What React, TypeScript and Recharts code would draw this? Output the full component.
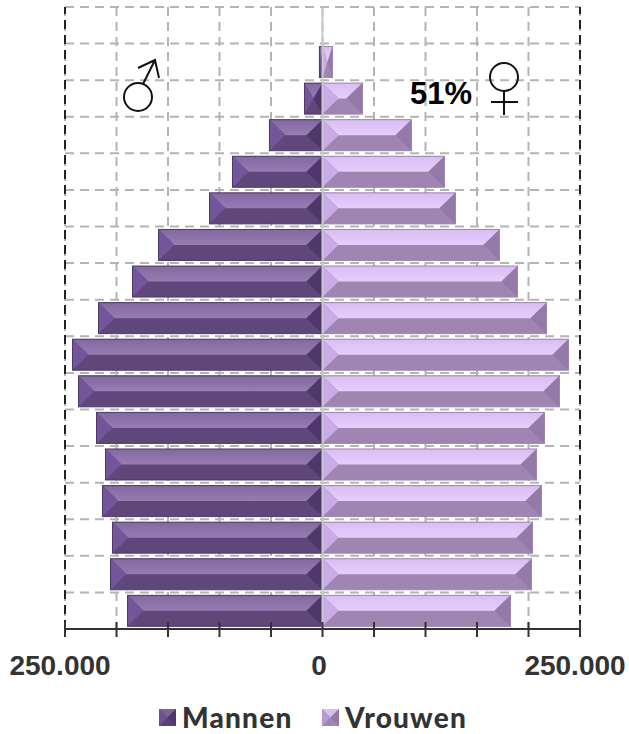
import { BarChart, Bar, XAxis, YAxis, CartesianGrid, ReferenceLine, Legend } from "recharts";

const AGE_GROUPS = [
  "90+", "85-89", "80-84", "75-79", "70-74", "65-69", "60-64", "55-59", "50-54",
  "45-49", "40-44", "35-39", "30-34", "25-29", "20-24", "15-19", "10-14",
];
const MEN = [
  0, 3000, 17500, 51500, 87400, 109700, 159200, 184500, 217500, 242700, 236900,
  219400, 210700, 213600, 203900, 205800, 189300,
];
const WOMEN = [
  0, 9700, 38800, 86400, 118400, 129100, 171800, 189300, 217500, 238800, 230100,
  215500, 207800, 212600, 203900, 202900, 182500,
];
const X_TICKS = [-250000, -200000, -150000, -100000, -50000, 0, 50000, 100000, 150000, 200000, 250000];
const LABELLED_TICKS = [-250000, 0, 250000];

const data = AGE_GROUPS.map((age, i) => ({ age, men: -MEN[i], women: WOMEN[i] }));

const MEN_COLORS = { left: "#72559a", right: "#4e3869", bottom: "#5f4779", edge: "#4d3a66" };
const WOMEN_COLORS = { left: "#c9abe8", right: "#937aa9", bottom: "#9e85b2", edge: "#9c86ad" };

function BevelBar(props: any, colors: typeof MEN_COLORS, topFill: string) {
  const { x, y, width, height } = props;
  if (!width) return <g />;
  const x0 = Math.min(x, x + width);
  const w = Math.abs(width);
  const inset = Math.min(16, w / 2);
  const mid = y + height / 2;
  const x1 = x0 + w;
  return (
    <g>
      <rect x={x0} y={y} width={w} height={height} fill={colors.bottom} />
      <polygon
        points={`${x0},${y} ${x1},${y} ${x1 - inset},${mid} ${x0 + inset},${mid}`}
        fill={topFill}
      />
      <polygon points={`${x0},${y} ${x0 + inset},${mid} ${x0},${y + height}`} fill={colors.left} />
      <polygon points={`${x1},${y} ${x1 - inset},${mid} ${x1},${y + height}`} fill={colors.right} />
      <rect x={x0} y={y} width={w} height={height} fill="none" stroke={colors.edge} strokeWidth={1} />
    </g>
  );
}

function AxisTick({ x, y, payload }: any) {
  const labelled = LABELLED_TICKS.includes(payload.value);
  const text = Math.abs(payload.value).toLocaleString("de-DE");
  return (
    <g>
      <line x1={x} x2={x} y1={y - 15} y2={y} stroke="#333" strokeWidth={2} />
      {labelled && (
        <text
          x={x - (payload.value === 0 ? 3.5 : 5)}
          y={y + 38}
          textAnchor="middle"
          fill="#333"
          fontFamily="'Liberation Sans'"
          fontWeight={700}
          fontSize={28}
        >
          {text}
        </text>
      )}
    </g>
  );
}

function LegendIcon({ top, left, right, bottom }: { top: string; left: string; right: string; bottom: string }) {
  return (
    <svg width={17} height={17} style={{ display: "block" }}>
      <rect width={17} height={17} fill={bottom} />
      <polygon points="0,0 17,0 8.5,8.5" fill={top} />
      <polygon points="0,0 8.5,8.5 0,17" fill={left} />
      <polygon points="17,0 8.5,8.5 17,17" fill={right} />
    </svg>
  );
}

function ChartLegend() {
  const labelStyle = {
    fontFamily: "Lato",
    fontWeight: 900,
    fontSize: 28,
    letterSpacing: 1.2,
    color: "#333",
    lineHeight: "30px",
  };
  return (
    <div style={{ display: "flex", alignItems: "center", paddingLeft: 159, height: 30 }}>
      <LegendIcon top="#7d6299" left="#6d5190" right="#4e3869" bottom="#5a4374" />
      <span style={{ ...labelStyle, marginLeft: 6, width: 140 }}>Mannen</span>
      <LegendIcon top="#d9bef5" left="#b79ad4" right="#937aa9" bottom="#9e85b2" />
      <span style={{ ...labelStyle, marginLeft: 6 }}>Vrouwen</span>
    </div>
  );
}

export default function App() {
  return (
    <div style={{ position: "absolute", left: 0, top: 0, width: 629, height: 734 }}>
      <BarChart
        width={629}
        height={734}
        data={data}
        layout="vertical"
        stackOffset="sign"
        barCategoryGap="8%"
        margin={{ top: 7, right: 49, bottom: 5, left: 65 }}
      >
        <defs>
          <linearGradient id="menTop" x1="0" y1="0" x2="0" y2="1">
            <stop offset="0%" stopColor="#8469a0" />
            <stop offset="100%" stopColor="#977cb4" />
          </linearGradient>
          <linearGradient id="womenTop" x1="0" y1="0" x2="0" y2="1">
            <stop offset="0%" stopColor="#d9bef3" />
            <stop offset="100%" stopColor="#e6cdfd" />
          </linearGradient>
        </defs>
        <CartesianGrid
          stroke="#b4b4b4"
          strokeWidth={2}
          strokeDasharray="9 6"
          horizontalCoordinatesGenerator={({ offset }: any) =>
            AGE_GROUPS.map((_, i) => offset.top + (i * offset.height) / AGE_GROUPS.length)
          }
        />
        <XAxis
          type="number"
          domain={[-250000, 250000]}
          ticks={X_TICKS}
          interval={0}
          height={70}
          tick={<AxisTick />}
          tickLine={false}
          axisLine={{ stroke: "#333", strokeWidth: 2 }}
        />
        <YAxis type="category" dataKey="age" hide />
        <ReferenceLine x={-250000} stroke="#222" strokeWidth={2} strokeDasharray="9 6" />
        <ReferenceLine x={250000} stroke="#222" strokeWidth={2} strokeDasharray="9 6" />
        <Bar
          dataKey="men"
          name="Mannen"
          stackId="pop"
          isAnimationActive={false}
          shape={(p: any) => BevelBar(p, MEN_COLORS, "url(#menTop)")}
        />
        <Bar
          dataKey="women"
          name="Vrouwen"
          stackId="pop"
          isAnimationActive={false}
          shape={(p: any) => BevelBar(p, WOMEN_COLORS, "url(#womenTop)")}
        />
        <ReferenceLine x={0} stroke="#cacaca" strokeWidth={2} />
        <Legend
          layout="vertical"
          align="center"
          content={<ChartLegend />}
          wrapperStyle={{ left: 0, top: 702, width: 629, bottom: "auto" }}
        />
      </BarChart>
      <svg
        width={629}
        height={734}
        style={{ position: "absolute", left: 0, top: 0, pointerEvents: "none" }}
        fill="none"
        stroke="#111"
        strokeWidth={2}
      >
        <circle cx={138} cy={97} r={14} />
        <path d="M143 84 L155 60 M138 68 L155 60 L159 78" />
        <circle cx={504} cy={77} r={14} />
        <path d="M504 91 V115 M491 102 H518" />
        <text
          x={410}
          y={104}
          fill="#000"
          stroke="none"
          fontFamily="'Liberation Sans'"
          fontWeight={700}
          fontSize={31}
        >
          51%
        </text>
      </svg>
    </div>
  );
}
